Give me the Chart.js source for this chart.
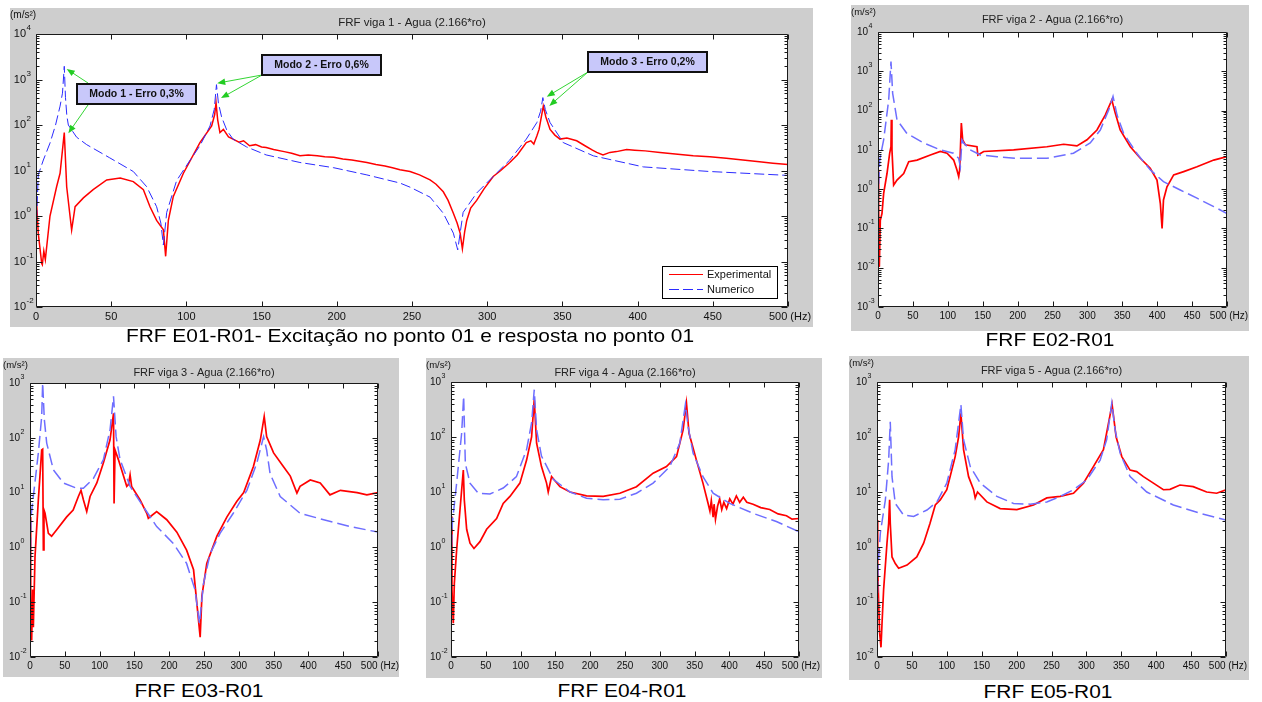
<!DOCTYPE html>
<html><head><meta charset="utf-8">
<script src="https://cdn.jsdelivr.net/npm/chart.js@4.4.1/dist/chart.umd.min.js"></script>
<style>
html,body{margin:0;padding:0;background:#fff;}
body{width:1262px;height:702px;position:relative;overflow:hidden;font-family:"Liberation Sans",Arial,sans-serif;}
canvas{position:absolute;}
.cap{position:absolute;font-size:19px;line-height:19px;color:#000;white-space:nowrap;transform:translateX(-50%) scaleX(1.1);}
</style></head><body>
<canvas id="c1" width="803" height="319" style="left:10px;top:8px"></canvas>
<canvas id="c2" width="398" height="326" style="left:851px;top:5px"></canvas>
<canvas id="c3" width="396" height="319" style="left:3px;top:358px"></canvas>
<canvas id="c4" width="396" height="320" style="left:426px;top:358px"></canvas>
<canvas id="c5" width="400" height="324" style="left:849px;top:356px"></canvas>
<div class="cap" style="left:410px;top:326px">FRF E01-R01- Excitação no ponto 01 e resposta no ponto 01</div>
<div class="cap" style="left:1050px;top:330px">FRF E02-R01</div>
<div class="cap" style="left:199px;top:681px">FRF E03-R01</div>
<div class="cap" style="left:622px;top:681px">FRF E04-R01</div>
<div class="cap" style="left:1048px;top:682px">FRF E05-R01</div>
<script>
// ---------- DATA ----------
const xTicks = [0, 50, 100, 150, 200, 250, 300, 350, 400, 450, 500];
const xTickLabels = ['0', '50', '100', '150', '200', '250', '300', '350', '400', '450', '500 (Hz)'];
const yUnit = '(m/s\u00b2)';
const seriesNames = ['Experimental', 'Numerico'];
const titles = ['FRF viga 1 - Agua (2.166*ro)', 'FRF viga 2 - Agua (2.166*ro)', 'FRF viga 3 - Agua (2.166*ro)', 'FRF viga 4 - Agua (2.166*ro)', 'FRF viga 5 - Agua (2.166*ro)'];
const p1Decades = [-2, -1, 0, 1, 2, 3, 4];
const p2Decades = [-3, -2, -1, 0, 1, 2, 3, 4];
const p3Decades = [-2, -1, 0, 1, 2, 3];
const p4Decades = [-2, -1, 0, 1, 2, 3];
const p5Decades = [-2, -1, 0, 1, 2, 3];

// Panel 1 (viga 1)
const p1ExpHz  = [0, 1.5, 3.8, 4.2, 5.2, 6.2, 9.3, 13.7, 16, 18.8, 20.4, 23.7, 26, 31.5, 38, 47, 56, 64.7, 71.4, 75.8, 80.2, 84.7, 86.2, 88, 91.3, 98, 109, 116.8, 118.8, 119.7, 120.8, 122.3, 124.6, 128, 131, 135, 138, 142, 146, 150, 153, 158, 165, 170, 175.5, 181, 187, 192, 198, 204, 210, 215, 220, 226, 232, 237, 242, 248.7, 255, 262, 266, 270.8, 274, 277.5, 280, 282, 283.5, 285, 286.4, 289, 293, 298, 304, 309, 315, 320, 326, 329, 331, 333, 334.5, 336, 337.3, 339, 341.8, 345, 348.4, 353, 359.5, 365, 370, 372.8, 377, 381.6, 386, 392.7, 398, 405, 414.9, 425, 437, 448, 459, 470, 481, 490, 500];
const p1ExpVal = [3.4, 0.42, 0.09, 0.085, 0.17, 0.11, 1.0, 4.4, 8.7, 68, 4.4, 0.49, 1.6, 2.5, 3.8, 6.2, 6.8, 5.7, 3.8, 1.6, 0.8, 0.5, 0.13, 0.8, 2.7, 8.7, 41, 95, 170, 310, 130, 68, 80, 55, 49, 42, 45, 35, 37, 33, 32, 29, 26, 24, 21, 22, 21, 20, 19.5, 18, 17, 16, 15, 13.5, 12.5, 11.5, 10.4, 9.5, 8, 6.2, 5, 3.4, 2.2, 1.15, 0.7, 0.42, 0.19, 0.45, 0.8, 1.5, 2.2, 4, 7.4, 10, 15, 22, 41, 45, 38, 57, 80, 150, 260, 150, 80, 60, 49, 52, 45, 35, 28, 25, 22, 25, 26, 29, 28, 27, 25, 23, 21, 20, 18.5, 17, 15.5, 14.5, 13.5];
const p1NumHz  = [0, 1.5, 4.9, 9.3, 13, 16, 17.6, 18.8, 19.6, 20.5, 21.5, 27, 33.7, 49, 64.7, 73.6, 80.2, 83, 84.7, 86.9, 93.5, 102, 109, 115.7, 118.5, 120, 121.3, 123.4, 127, 131, 140, 153, 175.5, 198, 220, 242, 248.7, 262, 270.8, 277.5, 280.4, 284, 293, 304, 315, 326, 333, 335.5, 337, 338.6, 341.8, 350.6, 370.6, 403.8, 448, 500];
const p1NumVal = [0.4, 8, 17, 40, 100, 260, 500, 1950, 400, 160, 100, 54, 37, 19, 9.5, 4.4, 1.6, 0.7, 0.23, 1.2, 6, 16, 35, 95, 220, 770, 300, 150, 75, 49, 33, 22, 15, 11.5, 8, 5.3, 4.3, 2.6, 1.15, 0.42, 0.18, 1.2, 3.2, 7.4, 17, 49, 113, 200, 400, 220, 113, 41, 21, 12, 9.5, 7.8];
// annotations of panel 1: box centre (Hz, value) and arrow tips (Hz, value)
const p1NoteText = ['Modo 1 - Erro 0,3%', 'Modo 2 - Erro 0,6%', 'Modo 3 - Erro 0,2%'];
const p1NoteHz   = [66.8, 189.5, 406.9];
const p1NoteVal  = [480, 2080, 2420];
const p1TipHz    = [[20.4, 21.5], [120.5, 123], [339.6, 341.3]];
const p1TipVal   = [[1700, 66], [830, 390], [420, 263]];

// Panel 2 (viga 2)
const p2ExpHz  = [0, 0.9, 1.9, 3.3, 5.7, 8.1, 12.9, 16.7, 18.6, 19.1, 20, 22.4, 27.2, 36.8, 44, 55.9, 75, 89.3, 98.9, 108.4, 113, 115.6, 117, 119.4, 121.3, 125, 141.8, 143, 151.4, 194.4, 242, 266, 285, 299.4, 313.7, 325.7, 335, 340, 347, 361.5, 375.8, 390, 399.7, 404.5, 407, 409, 414, 423.6, 438, 457, 481, 500];
const p2ExpVal = [3.1, 0.36, 0.0105, 0.16, 0.24, 0.78, 2.5, 8.1, 12, 58, 10, 1.26, 1.7, 2.5, 5, 5.5, 7.4, 9.1, 8.2, 5.5, 3.1, 2.1, 3.1, 48, 18, 13.5, 12, 7.4, 9.1, 10, 12, 13.9, 12.6, 18, 32, 78, 186, 85, 32, 12, 6.1, 3.4, 1.7, 0.43, 0.1, 0.53, 1.15, 2.3, 2.8, 3.7, 5.5, 6.7];
const p2NumHz  = [0, 2.4, 8.1, 15.3, 18.6, 21, 27.2, 41.5, 65.4, 89, 108, 115.6, 118, 120.3, 122.7, 132, 146.6, 170.5, 199, 242, 280, 304, 318.5, 330.5, 336.7, 342.4, 352, 371, 390, 409, 433, 457, 481, 500];
const p2NumVal = [0.5, 5.5, 18, 185, 1780, 275, 58, 26, 15, 10, 8.2, 6.1, 3.7, 18, 15, 10, 7.4, 6.7, 6.1, 6.1, 8.2, 15, 32, 104, 230, 78, 26, 8.1, 3.1, 1.55, 0.95, 0.59, 0.36, 0.24];

// Panel 3 (viga 3)
const p3ExpHz  = [0, 1, 2.4, 3.8, 4.8, 7.2, 12, 16.8, 18.2, 19.2, 20.1, 21.6, 26.4, 31, 38.4, 52.7, 62, 69.5, 73.3, 76.7, 81.5, 86.3, 96, 105.5, 115, 120, 120.8, 122.2, 127, 139, 141.4, 143.8, 146, 158, 167.8, 170, 182, 196.5, 211, 225, 235, 244.5, 247, 254, 268.5, 283, 297, 307, 321, 331, 336.5, 340, 350, 364, 374, 383.5, 388, 402.7, 417, 431, 446, 470, 484, 500];
const p3ExpVal = [3.6, 0.054, 0.02, 0.17, 0.035, 0.68, 7.4, 60, 62, 0.9, 4.8, 4.2, 1.8, 1.6, 2.1, 3.6, 4.8, 8.5, 11, 7.4, 4.5, 8.5, 15, 35, 92, 280, 6.3, 60, 40, 13, 14, 21, 13, 7.4, 4.2, 3.4, 4.5, 3.2, 1.9, 0.89, 0.39, 0.023, 0.13, 0.51, 1.6, 3.6, 6.9, 10, 30, 92, 245, 105, 53, 30, 20, 9.8, 13, 17, 15, 9.1, 11, 10, 9.1, 10];
const p3NumHz  = [0, 1.4, 4.8, 12, 16.8, 18.2, 20.6, 24, 33.6, 48, 67, 76.7, 91, 105.5, 115, 120, 123.7, 129.4, 143.8, 163, 182, 206, 225, 237, 243.5, 249.3, 259, 273, 292, 311.6, 326, 335.6, 340, 345, 359.5, 388, 422, 460, 500];
const p3NumVal = [0.22, 3.6, 8.5, 53, 245, 1000, 214, 80, 26, 15, 12, 12, 18, 40, 140, 570, 105, 40, 13, 5.5, 2.4, 1.18, 0.51, 0.17, 0.041, 0.22, 0.78, 1.8, 4.2, 11, 35, 105, 60, 22, 8.5, 4.2, 3.2, 2.4, 1.9];

// Panel 4 (viga 4)
const p4ExpHz  = [0, 1.4, 3.3, 4.8, 8.1, 12.9, 17.7, 19.1, 22.5, 27.3, 33, 41.6, 51.2, 65.5, 75, 84.7, 99, 108.6, 115.8, 119.6, 123, 130, 137.3, 139.7, 144.5, 156.5, 171, 194.7, 218.7, 242.6, 266.5, 290.4, 309.6, 324, 333.5, 338.3, 342, 352.6, 362, 369.4, 372, 374, 376.6, 378, 380, 383, 386, 389, 392, 396, 400.5, 405, 410, 414.8, 420, 425, 434, 445, 458, 470, 482, 490, 500];
const p4ExpVal = [3.6, 0.17, 0.041, 0.22, 0.88, 4.7, 25, 7.2, 2.1, 1.17, 0.94, 1.25, 2.1, 3.3, 6.2, 8.3, 14.5, 38, 100, 475, 77, 29, 14.5, 10, 19, 12.5, 10, 8.5, 8.3, 9.5, 12.5, 22, 29, 44, 135, 415, 117, 38, 14.5, 6.2, 4.5, 7, 3.5, 6, 3.2, 5.5, 7.5, 4.8, 6.5, 5, 7.5, 6, 8.5, 6.5, 8, 6.5, 6, 5.2, 4.8, 4, 3.7, 3.2, 3.3];
const p4NumHz  = [0, 1.9, 8.1, 15.3, 18.2, 20.6, 27.3, 39.2, 56, 75, 94, 108.6, 115.8, 119.6, 123, 130, 147, 171, 194.7, 218.7, 242.6, 266.5, 290.4, 314.4, 328.7, 336.8, 340.7, 347.8, 362, 376.6, 400.5, 434, 467.5, 500];
const p4NumVal = [0.5, 2.7, 14.5, 117, 550, 33, 14.5, 9.5, 9.2, 11.8, 19, 59, 180, 725, 135, 45, 17, 10, 7.7, 7.2, 7.4, 9.5, 14.5, 29, 77, 390, 155, 51, 19, 9.5, 6.2, 4.1, 2.9, 1.9];

// Panel 5 (viga 5)
const p5ExpHz  = [0, 1, 2.4, 3.8, 5.7, 7.2, 9.5, 14.3, 16.7, 18.1, 19, 21.5, 26.2, 31, 43, 57, 66.8, 76, 83.5, 90.6, 100, 112, 116.9, 120.2, 124, 131.2, 138.4, 140.7, 144, 157.4, 176.5, 200.4, 224.2, 243.3, 262.4, 281.5, 295.8, 310, 324.4, 336.8, 342.6, 350.7, 362.6, 372, 381.7, 396, 410.3, 419.8, 434, 453, 472.3, 486.6, 500];
const p5ExpVal = [3.1, 0.44, 0.093, 0.027, 0.015, 0.041, 0.17, 1.17, 2.7, 7.2, 2.7, 0.66, 0.5, 0.41, 0.47, 0.66, 1.17, 2.7, 5.8, 7.2, 11, 44, 100, 270, 59, 19, 11, 7.8, 10, 6.6, 5, 4.8, 5.8, 7.8, 8.3, 9.5, 14.5, 29, 59, 390, 100, 44, 25, 23.5, 19, 14.5, 11, 11.2, 13.4, 12.5, 10, 9.5, 11];
const p5NumHz  = [0, 1.4, 4.8, 12, 16.7, 19, 21.5, 26.2, 38, 52.5, 71.6, 85.9, 100, 112, 120.2, 124, 133.6, 148, 171.8, 195.6, 219.5, 243.3, 262.4, 281.5, 300.6, 319.7, 329, 336.4, 341.1, 348.3, 362.6, 386.5, 424.6, 462.8, 500];
const p5NumVal = [0.035, 0.44, 1.8, 7.2, 38, 190, 19, 6.2, 3.8, 3.6, 4.7, 6.6, 14.5, 59, 390, 89, 29, 14.5, 8.3, 6.2, 6, 6.6, 8.3, 11, 16.6, 38, 89, 415, 135, 51, 19, 10, 5.8, 4.1, 3.1];

// ---------- RENDERING ----------
const FONT = '"Liberation Sans", Arial, Helvetica, sans-serif';
const FRAME_BG = '#cecece';
const RED = '#ff0000', BLUE_BIG = '#2b2bff', BLUE_SMALL = '#6e6eff';
function zip(xs, ys) { return xs.map((x, i) => ({ x: x, y: ys[i] })); }

const panels = [
  { id: 'c1', top: 26, right: 25, yW: 26, xH: 20, dec: p1Decades, title: titles[0], big: true,
    exp: [p1ExpHz, p1ExpVal], num: [p1NumHz, p1NumVal], legend: true, notes: true },
  { id: 'c2', top: 27, right: 22, yW: 27, xH: 24, dec: p2Decades, title: titles[1],
    exp: [p2ExpHz, p2ExpVal], num: [p2NumHz, p2NumVal] },
  { id: 'c3', top: 25, right: 21, yW: 27, xH: 20, dec: p3Decades, title: titles[2],
    exp: [p3ExpHz, p3ExpVal], num: [p3NumHz, p3NumVal] },
  { id: 'c4', top: 24, right: 23, yW: 25, xH: 21, dec: p4Decades, title: titles[3],
    exp: [p4ExpHz, p4ExpVal], num: [p4NumHz, p4NumVal] },
  { id: 'c5', top: 26, right: 23, yW: 28, xH: 23, dec: p5Decades, title: titles[4],
    exp: [p5ExpHz, p5ExpVal], num: [p5NumHz, p5NumVal] }
];

function arrow(ctx, x0, y0, x1, y1) {
  const ang = Math.atan2(y1 - y0, x1 - x0), L = 8, W = 3.2;
  ctx.beginPath(); ctx.moveTo(x0, y0); ctx.lineTo(x1 - Math.cos(ang) * L * 0.8, y1 - Math.sin(ang) * L * 0.8); ctx.stroke();
  ctx.beginPath();
  ctx.moveTo(x1, y1);
  ctx.lineTo(x1 - Math.cos(ang) * L - Math.sin(ang) * W, y1 - Math.sin(ang) * L + Math.cos(ang) * W);
  ctx.lineTo(x1 - Math.cos(ang) * L + Math.sin(ang) * W, y1 - Math.sin(ang) * L - Math.cos(ang) * W);
  ctx.closePath(); ctx.fill();
}

function makePlugin(p) {
  return {
    id: 'matlabAxes',
    beforeDraw(chart) {
      const ctx = chart.ctx, a = chart.chartArea;
      ctx.save();
      ctx.fillStyle = FRAME_BG; ctx.fillRect(0, 0, chart.width, chart.height);
      ctx.fillStyle = '#ffffff'; ctx.fillRect(a.left, a.top, a.right - a.left, a.bottom - a.top);
      ctx.restore();
    },
    afterDatasetsDraw(chart) {
      const ctx = chart.ctx, a = chart.chartArea;
      const xs = chart.scales.x, ys = chart.scales.y;
      const big = !!p.big;
      const fs = big ? 11 : 10;
      const majT = big ? 6 : 5, minT = 3;
      const L = Math.round(a.left) + 0.5, R = Math.round(a.right) - 0.5;
      const T = Math.round(a.top) + 0.5, B = Math.round(a.bottom) - 0.5;
      ctx.save();
      ctx.strokeStyle = '#1a1a1a'; ctx.lineWidth = 1;
      ctx.beginPath();
      ctx.rect(L, T, R - L, B - T);
      xTicks.forEach(t => {
        const px = Math.round(xs.getPixelForValue(t)) + 0.5;
        ctx.moveTo(px, B); ctx.lineTo(px, B - 5);
        ctx.moveTo(px, T); ctx.lineTo(px, T + 5);
      });
      const dmax = p.dec[p.dec.length - 1];
      p.dec.forEach(e => {
        const py = Math.round(ys.getPixelForValue(Math.pow(10, e))) + 0.5;
        ctx.moveTo(L, py); ctx.lineTo(L + majT, py);
        ctx.moveTo(R, py); ctx.lineTo(R - majT, py);
        if (e < dmax) {
          for (let k = 2; k <= 9; k++) {
            const q = Math.round(ys.getPixelForValue(k * Math.pow(10, e))) + 0.5;
            ctx.moveTo(L, q); ctx.lineTo(L + minT, q);
            ctx.moveTo(R, q); ctx.lineTo(R - minT, q);
          }
        }
      });
      ctx.stroke();

      // x tick labels
      ctx.fillStyle = '#111';
      ctx.font = fs + 'px ' + FONT;
      ctx.textAlign = 'center'; ctx.textBaseline = 'middle';
      xTicks.forEach((t, i) => {
        ctx.fillText(xTickLabels[i], xs.getPixelForValue(t) + (i === xTicks.length - 1 ? 2 : 0), a.bottom + (big ? 10 : 9));
      });
      // y tick labels 10^e
      p.dec.forEach(e => {
        const py = ys.getPixelForValue(Math.pow(10, e));
        ctx.font = fs + 'px ' + FONT;
        ctx.textAlign = 'right'; ctx.textBaseline = 'middle';
        ctx.fillText('10', a.left - 10, py);
        ctx.font = (big ? 8 : 7) + 'px ' + FONT;
        ctx.textAlign = 'left';
        ctx.fillText(String(e), a.left - 9.5, py - 6);
      });
      // unit label and title
      ctx.font = (big ? 10 : 9.5) + 'px ' + FONT;
      ctx.textAlign = 'left'; ctx.textBaseline = 'middle';
      ctx.fillText(yUnit, 0, 7);
      ctx.fillStyle = '#222';
      ctx.font = (big ? 11.5 : 11) + 'px ' + FONT;
      ctx.textAlign = 'center';
      ctx.fillText(p.title, (a.left + a.right) / 2, 15);

      // legend
      if (p.legend) {
        const w = 115, h = 32;
        const x = Math.round(a.right - 11 - w), y = Math.round(a.bottom - 9 - h);
        ctx.fillStyle = '#fff'; ctx.fillRect(x, y, w, h);
        ctx.strokeStyle = '#000'; ctx.lineWidth = 1;
        ctx.strokeRect(x + 0.5, y + 0.5, w, h);
        [RED, BLUE_BIG].forEach((col, i) => {
          const ly = Math.round(y + 8 + i * 14.5) + 0.5;
          ctx.strokeStyle = col; ctx.lineWidth = 1;
          ctx.setLineDash(i === 1 ? [10, 4] : []);
          ctx.beginPath(); ctx.moveTo(x + 7, ly); ctx.lineTo(x + 41, ly); ctx.stroke();
          ctx.setLineDash([]);
          ctx.fillStyle = '#111'; ctx.font = '11px ' + FONT;
          ctx.textAlign = 'left'; ctx.textBaseline = 'middle';
          ctx.fillText(seriesNames[i], x + 45, ly);
        });
      }
      // annotations
      if (p.notes) {
        ctx.font = 'bold 10.5px ' + FONT;
        p1NoteText.forEach((txt, i) => {
          const cx = xs.getPixelForValue(p1NoteHz[i]), cy = ys.getPixelForValue(p1NoteVal[i]);
          const w = Math.round(ctx.measureText(txt).width + 24), h = 20;
          const bx = Math.round(cx - w / 2), by = Math.round(cy - h / 2);
          ctx.strokeStyle = '#33d633'; ctx.fillStyle = '#22cc22'; ctx.lineWidth = 1;
          p1TipHz[i].forEach((th, j) => {
            const tx = xs.getPixelForValue(th), ty = ys.getPixelForValue(p1TipVal[i][j]);
            let sx, sy;
            if (i === 0) { sx = bx + 11; sy = j === 0 ? by - 1 : by + h + 1; }
            else { sx = bx; sy = by + h; }
            arrow(ctx, sx, sy, tx, ty);
          });
          ctx.fillStyle = '#c8c8fa'; ctx.fillRect(bx, by, w, h);
          ctx.strokeStyle = '#111'; ctx.lineWidth = 2; ctx.strokeRect(bx, by, w, h);
          ctx.fillStyle = '#111'; ctx.textAlign = 'center'; ctx.textBaseline = 'middle';
          ctx.fillText(txt, bx + w / 2, by + h / 2 + 0.5);
        });
      }
      ctx.restore();
    }
  };
}

panels.forEach(p => {
  const big = !!p.big;
  new Chart(document.getElementById(p.id), {
    type: 'line',
    data: {
      datasets: [
        { label: seriesNames[0], data: zip(p.exp[0], p.exp[1]), borderColor: RED,
          borderWidth: big ? 1.5 : 1.7, pointRadius: 0, tension: 0, order: 1 },
        { label: seriesNames[1], data: zip(p.num[0], p.num[1]), borderColor: big ? BLUE_BIG : BLUE_SMALL,
          borderWidth: big ? 1 : 1.5, borderDash: big ? [10, 4] : [12, 5], pointRadius: 0, tension: 0, order: 0 }
      ]
    },
    options: {
      responsive: false, animation: false, devicePixelRatio: 1,
      layout: { padding: { top: p.top, right: p.right, left: 0, bottom: 0 } },
      scales: {
        x: { type: 'linear', min: 0, max: 500, ticks: { display: false }, grid: { display: false }, border: { display: false },
             afterFit: s => { s.height = p.xH; } },
        y: { type: 'logarithmic', min: Math.pow(10, p.dec[0]), max: Math.pow(10, p.dec[p.dec.length - 1]),
             ticks: { display: false }, grid: { display: false }, border: { display: false },
             afterFit: s => { s.width = p.yW; } }
      },
      plugins: { legend: { display: false }, tooltip: { enabled: false } }
    },
    plugins: [makePlugin(p)]
  });
});
</script>
</body></html>
